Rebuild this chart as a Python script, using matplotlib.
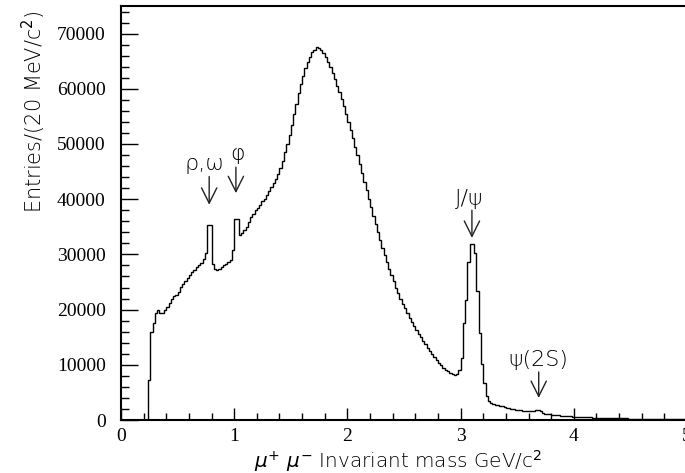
import numpy as np
import matplotlib
matplotlib.use("Agg")
import matplotlib.pyplot as plt

# Dimuon invariant-mass spectrum, 20 MeV/c^2 bins from 0 to 5 GeV/c^2
bin_width = 0.02
mass_min, mass_max = 0.0, 5.0

# 0.00 - 0.22 GeV: below threshold
below_threshold = [0] * 12

# 0.24 - 1.28 GeV: low-mass region with rho/omega and phi
low_mass = [
    7250, 16000, 17600, 19450, 19900, 19450, 19450, 19900, 20500, 21200,
    21900, 22400, 22700, 23200, 24100, 24700, 25100, 25700, 26300, 26800,
    27200, 27700, 28000, 28400, 29200, 30200, 35400, 35400, 28300, 27300,
    27100, 27400, 27700, 28000, 28300, 28600, 29000, 30800, 36400, 36400,
    33600, 33800, 34400, 35000, 35900, 36700, 37400, 38000, 38400, 38900,
    39600, 40100, 40700,
]

# 1.30 - 2.94 GeV: broad continuum
continuum = [
    41500, 42200, 42900, 43700, 44600, 45600, 47000, 48500, 50000, 51700,
    53500, 55400, 57300, 59200, 60900, 62400, 63800, 64900, 65800, 66600,
    67100, 67500, 67400, 67100, 66500, 65700, 64900, 63900, 62800, 61700,
    60500, 59500, 58100, 56800, 55400, 54000, 52600, 51000, 49500, 48000,
    46400, 44800, 43200, 41600, 40000, 38500, 37000, 35500, 34000, 32600,
    31200, 29900, 28600, 27400, 26200, 25100, 24000, 23000, 22000, 21100,
    20200, 19300, 18500, 17700, 17000, 16300, 15600, 15000, 14300, 13700,
    13100, 12500, 12000, 11400, 10900, 10400, 9900, 9500, 9100, 8800,
    8500, 8300, 8100,
]

# 2.96 - 3.22 GeV: J/psi peak
jpsi = [
    8300, 9000, 11200, 17500, 21800, 28600, 31800, 31800, 30300, 23300,
    15800, 10200, 6700, 4300,
]

# 3.24 - 4.98 GeV: high-mass tail with psi(2S)
tail = [
    3400, 3100, 2900, 2750, 2650, 2550, 2450, 2350, 2250, 2150,
    2050, 1980, 1900, 1830, 1770, 1720, 1680, 1650, 1620, 1600,
    1620, 1750, 1780, 1550, 1300, 1150, 1080, 1020, 960, 910,
    860, 820, 780, 740, 700, 670, 640, 610, 580,
    560, 540, 520, 500, 485, 470, 455, 440, 425, 410,
    400, 385, 375, 360, 350, 340, 330, 320, 310, 300,
    290, 282, 274, 266, 258, 250, 243, 236, 229, 222,
    215, 208, 202, 196, 190, 184, 178, 172, 167, 162,
    157, 152, 147, 142, 137, 133, 129, 125, 121,
]

counts = np.concatenate([below_threshold, low_mass, continuum, jpsi, tail])
edges = np.linspace(mass_min, mass_max, len(counts) + 1)

# Resonance labels: (text, mass, arrow top, arrow tip, text x, text y)
resonances = [
    ("\u03c1,\u03c9", 0.779, 44100, 39000, 0.74, 44500),
    ("\u03c6", 1.015, 45800, 41100, 1.03, 46300),
    ("J/\u03c8", 3.10, 38000, 33000, 3.08, 38300),
    ("\u03c8(2S)", 3.69, 8700, 4000, 3.69, 9100),
]

fig = plt.figure(figsize=(6.85, 4.73), dpi=100)
ax = fig.add_axes([121 / 685, 53 / 473, 566 / 685, 414 / 473])

ax.stairs(counts, edges, color="black", linewidth=1.0)

ax.set_xlim(mass_min, mass_max)
ax.set_ylim(0, 75000)

ax.set_xticks(np.arange(0, 6, 1))
ax.set_xticks(np.arange(0, 5.01, 0.2), minor=True)
ax.set_yticks(np.arange(0, 80000, 10000))
ax.set_yticks(np.arange(0, 75001, 2000), minor=True)

for lab in ax.get_xticklabels() + ax.get_yticklabels():
    lab.set_fontfamily("Liberation Serif")
    lab.set_fontsize(14)

ax.tick_params(which="both", direction="in", top=False, right=False,
               width=1.0, color="black")
ax.tick_params(which="major", axis="x", length=9, pad=6)
ax.tick_params(which="minor", axis="x", length=5)
ax.tick_params(which="major", axis="y", length=12, pad=11)
ax.tick_params(which="minor", axis="y", length=6)

for s in ax.spines.values():
    s.set_linewidth(1.5)

label_font = dict(family="DejaVu Sans", fontweight="light", color="black")

for text, m, y0, y1, tx, ty in resonances:
    ax.annotate("", xy=(m, y1), xytext=(m, y0),
                arrowprops=dict(arrowstyle="->,head_length=1.1,head_width=0.55",
                                mutation_scale=10, color="#222222", lw=1.0,
                                shrinkA=0, shrinkB=0))
    ax.text(tx, ty, text, ha="center", va="bottom", fontsize=16, **label_font)

fig.text(34 / 685, (473 - 111.5) / 473, "Entries/(20 MeV/c$^2$)",
         rotation=90, ha="center", va="center", fontsize=15, **label_font)
fig.text(398 / 685, (473 - 461) / 473,
         "$\\mu^{+}$ $\\mu^{-}$ Invariant mass GeV/c$^2$",
         ha="center", va="center", fontsize=14.4, **label_font)

fig.savefig("out.png", dpi=100)
